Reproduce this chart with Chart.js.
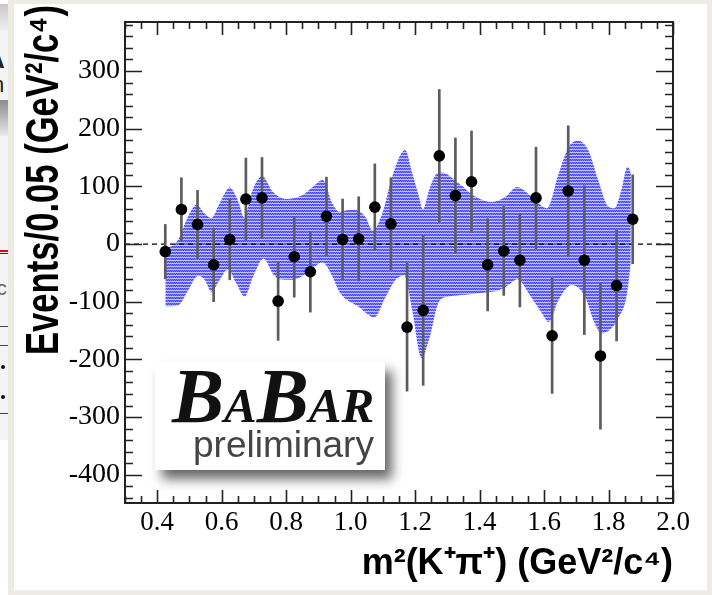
<!DOCTYPE html>
<html>
<head>
<meta charset="utf-8">
<script src="https://cdn.jsdelivr.net/npm/chart.js@4.4.1/dist/chart.umd.min.js"></script>
<style>
  html, body { margin: 0; padding: 0; }
  body { width: 712px; height: 595px; background: #eeebe4; position: relative; overflow: hidden; }
  #panel { position: absolute; left: 14px; top: 4px; width: 693px; height: 586px; background: #fff; }
  #plot { position: absolute; left: 0; top: 0; }
  #edge { position: absolute; left: 0; top: 0; width: 8px; height: 595px; overflow: hidden; background: #fff; }
  #edge div, #edge span { position: absolute; }
  #edge span { font-family: "Liberation Sans", sans-serif; font-weight: bold; color: #222; line-height: 1; }
  #logo { position: absolute; left: 155px; top: 362px; width: 230px; height: 108px; background: #fff;
          box-shadow: 7px 9px 11px rgba(0,0,0,0.6); }
  #logo .exp { position: absolute; left: 17px; top: -5px; font-family: "Liberation Serif", serif; font-weight: bold;
               font-style: italic; font-size: 78px; line-height: 78px; color: #111; white-space: nowrap; filter: blur(0.6px); }
  #logo .exp small { font-size: 49px; }
  #logo .pre { position: absolute; left: 38px; top: 64px; font-family: "Liberation Sans", sans-serif; font-size: 37px;
               line-height: 37px; color: #444; white-space: nowrap; filter: blur(0.6px); }
</style>
</head>
<body>
<div id="panel"></div>
<div id="edge">
  <div style="left:0;top:4px;width:8px;height:26px;background:linear-gradient(#c8c8c8,#efefef);"></div>
  <div style="left:0;top:30px;width:8px;height:410px;background:#f4f4f4;"></div>
  <div style="left:0;top:100px;width:8px;height:36px;background:linear-gradient(#8c8c8c,#e8e8e8);"></div>
  <span style="left:-14px;top:46px;font-size:26px;">A</span>
  <span style="left:-8px;top:74px;font-size:22px;font-weight:normal;">n</span>
  <div style="left:0;top:250px;width:8px;height:2px;background:#d01010;"></div>
  <div style="left:0;top:253px;width:8px;height:1px;background:#333;"></div>
  <span style="left:-10px;top:278px;font-size:20px;font-weight:normal;color:#666;">(c</span>
  <div style="left:0;top:326px;width:8px;height:1px;background:#444;"></div>
  <div style="left:0;top:345px;width:8px;height:1px;background:#444;"></div>
  <div style="left:1px;top:365px;width:4px;height:4px;background:#111;border-radius:2px;"></div>
  <div style="left:1px;top:395px;width:4px;height:4px;background:#111;border-radius:2px;"></div>
  <div style="left:0;top:413px;width:8px;height:1px;background:#444;"></div>
</div>
<canvas id="plot" width="712" height="595"></canvas>
<div id="logo">
  <div class="exp">B<small>A</small>B<small>AR</small></div>
  <div class="pre">preliminary</div>
</div>
<script>
// Signal yield per 0.05 GeV^2/c^4 bin of m^2(K+pi+)
const binCenters = [0.425, 0.475, 0.525, 0.575, 0.625, 0.675, 0.725, 0.775, 0.825, 0.875,
                    0.925, 0.975, 1.025, 1.075, 1.125, 1.175, 1.225, 1.275, 1.325, 1.375,
                    1.425, 1.475, 1.525, 1.575, 1.625, 1.675, 1.725, 1.775, 1.825, 1.875];
const eventYields = [-13, 60, 34, -36, 8, 78, 80, -99, -22, -48,
                     48, 8, 9, 64, 35, -144, -115, 153, 84, 108,
                     -36, -12, -28, 80, -159, 92, -28, -194, -72, 43];
const yieldErrors = [47, 55, 59, 64, 70, 71, 70, 68, 70, 70,
                     68, 70, 73, 75, 80, 111, 130, 115, 100, 88,
                     80, 77, 81, 88, 100, 113, 129, 127, 96, 77];

// Expected-shape band: upper and lower envelopes
const bandUpperX = [0.425, 0.449, 0.470, 0.491, 0.522, 0.547, 0.568, 0.594, 0.625, 0.650,
                    0.671, 0.692, 0.726, 0.758, 0.800, 0.851, 0.882, 0.913, 0.944, 0.965,
                    0.996, 1.016, 1.047, 1.068, 1.098, 1.129, 1.169, 1.191, 1.212, 1.224,
                    1.243, 1.264, 1.282, 1.336, 1.387, 1.438, 1.480, 1.516, 1.562, 1.609,
                    1.645, 1.676, 1.706, 1.737, 1.768, 1.799, 1.818, 1.840, 1.859, 1.870];
const bandUpperY = [-7, -2, 12, 42, 68, 53, 45, 71, 98, 76,
                    45, 88, 118, 91, 78, 85, 99, 111, 70, 56,
                    59, 59, 46, 23, 53, 117, 163, 123, 82, 60,
                    93, 120, 124, 105, 82, 73, 82, 99, 82, 62,
                    122, 168, 179, 163, 111, 65, 62, 94, 134, 123];
const bandLowerX = [0.425, 0.465, 0.496, 0.527, 0.547, 0.568, 0.594, 0.619, 0.645, 0.671,
                    0.697, 0.730, 0.758, 0.779, 0.820, 0.862, 0.913, 0.944, 0.965, 1.026,
                    1.073, 1.109, 1.140, 1.166, 1.191, 1.220, 1.243, 1.274, 1.305, 1.356,
                    1.418, 1.459, 1.490, 1.516, 1.562, 1.593, 1.614, 1.645, 1.686, 1.727,
                    1.753, 1.779, 1.809, 1.830, 1.856, 1.869];
const bandLowerY = [-108, -106, -80, -55, -62, -83, -62, -44, -68, -91,
                    -57, -25, -51, -61, -62, -51, -32, -57, -83, -109,
                    -127, -91, -62, -54, -115, -198, -166, -100, -91, -88,
                    -84, -80, -71, -61, -94, -120, -135, -97, -71, -91,
                    -132, -155, -146, -129, -91, -34];

const xTickValues = [0.4, 0.6, 0.8, 1.0, 1.2, 1.4, 1.6, 1.8, 2.0];
const yTickValues = [-400, -300, -200, -100, 0, 100, 200, 300];
const xRange = [0.3, 2.0];
const yRange = [-449, 385];
const xTitle = 'm²(K⁺π⁺) (GeV²/c⁴)';
const yTitle = 'Events/0.05 (GeV²/c⁴)';

// ROOT-style hatched blue fill
function bandPattern() {
  const c = document.createElement('canvas');
  c.width = 2; c.height = 3;
  const g = c.getContext('2d');
  g.fillStyle = '#4646f4'; g.fillRect(0, 0, 2, 2);
  g.fillStyle = '#7a7aff'; g.fillRect(1, 0, 1, 1); g.fillRect(0, 1, 1, 1);
  g.fillStyle = '#c2c2ff'; g.fillRect(0, 2, 2, 1);
  return g.createPattern(c, 'repeat');
}

const toXY = (xs, ys) => xs.map((x, i) => ({ x, y: ys[i] }));

// Frame with inward tick marks on all four sides, plus the rotated y title
const framePlugin = {
  id: 'frameTicks',
  afterDatasetsDraw(chart) {
    const { ctx, chartArea: a, scales: { x, y } } = chart;
    ctx.save();
    ctx.strokeStyle = '#222';
    ctx.lineWidth = 1.6;
    ctx.beginPath();
    for (let i = 6; i <= 40; i++) {
      const px = Math.round(x.getPixelForValue(i * 0.05)) + 0.5;
      const len = i % 4 === 0 ? 13 : 7;
      ctx.moveTo(px, a.top); ctx.lineTo(px, a.top + len);
      ctx.moveTo(px, a.bottom); ctx.lineTo(px, a.bottom - len);
    }
    for (let i = -22; i <= 19; i++) {
      const py = Math.round(y.getPixelForValue(i * 20)) + 0.5;
      const len = i % 5 === 0 ? 17 : 8;
      ctx.moveTo(a.left, py); ctx.lineTo(a.left + len, py);
      ctx.moveTo(a.right, py); ctx.lineTo(a.right - len, py);
    }
    ctx.stroke();
    ctx.lineWidth = 2;
    ctx.strokeRect(a.left, a.top, a.right - a.left, a.bottom - a.top);
    ctx.restore();
  },
  afterDraw(chart) {
    const ctx = chart.ctx;
    ctx.save();
    ctx.font = 'bold 46px "Liberation Sans", sans-serif';
    const w = ctx.measureText(yTitle).width;
    ctx.translate(45, 180);
    ctx.rotate(-Math.PI / 2);
    ctx.scale(350 / w, 1);
    ctx.fillStyle = '#000';
    ctx.textAlign = 'center';
    ctx.textBaseline = 'middle';
    ctx.fillText(yTitle, 0, 0);
    ctx.restore();
  }
};

new Chart(document.getElementById('plot'), {
  type: 'scatter',
  data: {
    datasets: [
      {
        type: 'line', data: toXY(bandLowerX, bandLowerY), borderWidth: 0, borderColor: 'rgba(0,0,0,0)',
        pointRadius: 0, cubicInterpolationMode: 'monotone', fill: false, order: 5
      },
      {
        type: 'line', data: toXY(bandUpperX, bandUpperY), borderWidth: 0, borderColor: 'rgba(0,0,0,0)',
        pointRadius: 0, cubicInterpolationMode: 'monotone', fill: '-1', backgroundColor: bandPattern(), order: 4
      },
      {
        type: 'line', data: [{ x: xRange[0], y: 0 }, { x: xRange[1], y: 0 }], borderColor: '#000',
        borderWidth: 1.2, borderDash: [5, 4], pointRadius: 0, fill: false, order: 3
      },
      {
        type: 'bar', data: binCenters.map((x, i) => ({ x, y: [eventYields[i] - yieldErrors[i], eventYields[i] + yieldErrors[i]] })),
        backgroundColor: '#5c5c5c', barThickness: 2, borderWidth: 0, order: 2
      },
      {
        type: 'scatter', data: toXY(binCenters, eventYields), pointRadius: 5.8, pointHoverRadius: 5.8,
        backgroundColor: '#000', borderColor: '#000', borderWidth: 0, order: 1
      }
    ]
  },
  options: {
    responsive: false,
    animation: false,
    devicePixelRatio: 1,
    layout: { padding: { left: 14, right: 39, top: 22, bottom: 0 } },
    plugins: { legend: { display: false }, tooltip: { enabled: false } },
    scales: {
      x: {
        type: 'linear', min: xRange[0], max: xRange[1], offset: false,
        afterBuildTicks: s => { s.ticks = xTickValues.map(v => ({ value: v })); },
        afterFit: s => { s.height = 92; },
        grid: { display: false, drawTicks: false, offset: false },
        border: { display: false },
        ticks: {
          autoSkip: false, maxRotation: 0, padding: 4, color: '#000',
          font: { family: '"Liberation Serif", serif', size: 27 },
          callback: v => Number(v).toFixed(1)
        },
        title: {
          display: true, text: xTitle, align: 'end', color: '#000',
          font: { family: '"Liberation Sans", sans-serif', weight: 'bold', size: 36 },
          padding: { top: 0, bottom: 9 }
        }
      },
      y: {
        type: 'linear', min: yRange[0], max: yRange[1],
        afterBuildTicks: s => { s.ticks = yTickValues.map(v => ({ value: v })); },
        afterFit: s => { s.width = 111; },
        grid: { display: false, drawTicks: false },
        border: { display: false },
        ticks: {
          autoSkip: false, padding: 5, color: '#000',
          font: { family: '"Liberation Serif", serif', size: 28 },
          callback: v => String(v)
        }
      }
    }
  },
  plugins: [framePlugin]
});
</script>
</body>
</html>
